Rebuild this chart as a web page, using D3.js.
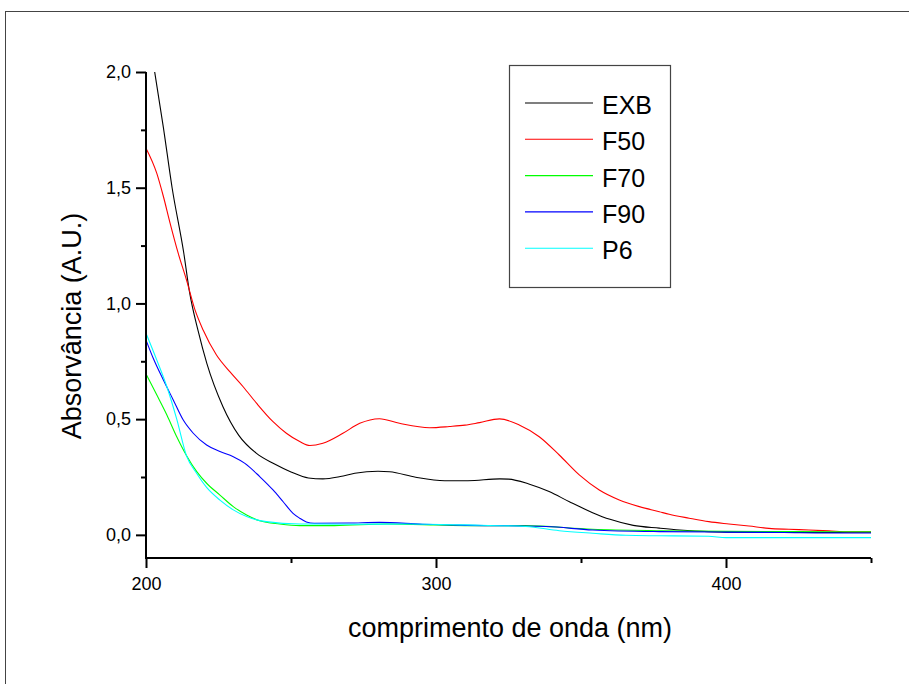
<!DOCTYPE html>
<html>
<head>
<meta charset="utf-8">
<script src="https://cdn.jsdelivr.net/npm/d3@7"></script>
<style>
  html, body { margin: 0; padding: 0; background: #fff; }
  svg { display: block; font-family: "Liberation Sans", Arial, sans-serif; }
</style>
</head>
<body>
<svg id="chart" width="909" height="684"></svg>
<script>
// ---- data ----
const seriesNames = ["EXB", "F50", "F70", "F90", "P6"];
const seriesColors = ["#000000", "#ff0000", "#00ff00", "#0000ff", "#00ffff"];

const exbWl  = [203, 206, 209, 213, 215, 218, 221, 226.5, 232, 238, 244, 250, 256, 261, 267, 272, 280, 284, 293, 303, 311, 322, 325, 332, 339, 346, 354, 360, 368, 377, 384, 394, 410, 430, 450];
const exbAbs = [2.0, 1.76, 1.50, 1.22, 1.05, 0.88, 0.74, 0.555, 0.43, 0.353, 0.308, 0.272, 0.246, 0.242, 0.252, 0.266, 0.275, 0.273, 0.249, 0.234, 0.234, 0.242, 0.241, 0.22, 0.187, 0.143, 0.096, 0.067, 0.041, 0.029, 0.021, 0.014, 0.011, 0.010, 0.010];

const f50Wl  = [200, 203.7, 206, 208.3, 211.1, 214, 216.9, 219.7, 224.3, 228.9, 233.5, 238.1, 243.8, 248.4, 253, 256.5, 261, 267.9, 273.7, 280.5, 287.4, 297.8, 304.6, 310, 315, 321.9, 328.7, 335.6, 342.5, 349.4, 356.3, 363.2, 370.1, 377, 380.4, 387.3, 394.1, 401, 407.9, 414.8, 421.7, 428.6, 435.5, 442.3, 450];
const f50Abs = [1.671, 1.563, 1.462, 1.347, 1.217, 1.10, 0.972, 0.885, 0.777, 0.705, 0.640, 0.569, 0.489, 0.439, 0.403, 0.386, 0.396, 0.439, 0.482, 0.502, 0.482, 0.463, 0.468, 0.474, 0.485, 0.501, 0.475, 0.424, 0.345, 0.259, 0.194, 0.151, 0.122, 0.100, 0.089, 0.072, 0.057, 0.047, 0.038, 0.028, 0.024, 0.021, 0.017, 0.013, 0.013];

const f70Wl  = [200, 203.7, 207.2, 210.6, 214, 217.5, 220.9, 225.5, 230.1, 234.7, 239.2, 246.1, 253, 265, 283, 300, 310, 330, 354, 377, 400, 425, 450];
const f70Abs = [0.695, 0.605, 0.518, 0.424, 0.342, 0.273, 0.223, 0.172, 0.122, 0.086, 0.061, 0.047, 0.040, 0.040, 0.047, 0.043, 0.040, 0.040, 0.024, 0.018, 0.015, 0.014, 0.013];

const f90Wl  = [200, 202.5, 206, 209.4, 212.8, 216.3, 220.9, 225.5, 230.1, 234.1, 239.2, 243.8, 247.3, 250.7, 253, 255.3, 258, 270, 280.5, 295.4, 308, 338, 354, 377, 400, 420, 435, 450];
const f90Abs = [0.842, 0.763, 0.669, 0.583, 0.497, 0.439, 0.388, 0.360, 0.338, 0.309, 0.252, 0.194, 0.143, 0.093, 0.072, 0.056, 0.050, 0.051, 0.054, 0.046, 0.042, 0.036, 0.021, 0.014, 0.012, 0.010, 0.008, 0.008];

const p6Wl   = [200, 203.7, 207.2, 210.6, 214, 217.5, 220.9, 225.5, 230.1, 234.7, 241.5, 253, 270, 290, 310, 331, 342.5, 354, 365.5, 377, 394, 400, 450];
const p6Abs  = [0.871, 0.756, 0.640, 0.50, 0.34, 0.265, 0.205, 0.150, 0.108, 0.079, 0.057, 0.047, 0.046, 0.047, 0.043, 0.036, 0.018, 0.007, -0.002, -0.004, -0.006, -0.012, -0.012];

const xMajorTicks = [200, 300, 400];
const xMinorTicks = [250, 350, 450];
const yMajorTicks = [0, 0.5, 1.0, 1.5, 2.0];
const yMinorTicks = [0.25, 0.75, 1.25, 1.75];
const xTitle = "comprimento de onda (nm)";
const yTitle = "Absorvância (A.U.)";

const seriesWl  = [exbWl, f50Wl, f70Wl, f90Wl, p6Wl];
const seriesAbs = [exbAbs, f50Abs, f70Abs, f90Abs, p6Abs];

// ---- layout ----
const svg = d3.select("#chart");
const plotL = 146, plotR = 871, plotT = 72, plotB = 558;

const x = d3.scaleLinear().domain([200, 450]).range([plotL, plotR]);
const y = d3.scaleLinear().domain([-0.1, 2.0]).range([plotB, plotT]);
const fmt = d => d3.format(".1f")(d).replace(".", ",");

// outer frame
svg.append("rect").attr("x", 5.5).attr("y", 11.5).attr("width", 1000).attr("height", 1000)
  .attr("fill", "none").attr("stroke", "#444").attr("stroke-width", 1);

// series lines
const line = d3.line().x(d => x(d[0])).y(d => y(d[1])).curve(d3.curveMonotoneX);
seriesNames.forEach((name, i) => {
  const pts = seriesWl[i].map((w, j) => [w, seriesAbs[i][j]]);
  svg.append("path").datum(pts).attr("d", line)
    .attr("fill", "none").attr("stroke", seriesColors[i]).attr("stroke-width", 1.1);
});

// y axis
const yAxis = svg.append("g").attr("transform", `translate(${plotL},0)`)
  .call(d3.axisLeft(y).tickValues(yMajorTicks).tickFormat(fmt).tickSize(10).tickPadding(5).tickSizeOuter(0));
yAxis.select(".domain").attr("stroke-width", 2).attr("d", `M0,${plotT}V${plotB}`);
yAxis.selectAll(".tick line").attr("stroke-width", 2);
yAxis.selectAll(".tick text").attr("font-size", 18).attr("fill", "#000")
  .attr("font-family", "Liberation Sans, Arial, sans-serif");
svg.append("g").attr("transform", `translate(${plotL},0)`)
  .call(d3.axisLeft(y).tickValues(yMinorTicks).tickFormat("").tickSize(5).tickSizeOuter(0))
  .call(g => g.select(".domain").remove())
  .selectAll(".tick line").attr("stroke-width", 2);

// x axis
const xAxis = svg.append("g").attr("transform", `translate(0,${plotB})`)
  .call(d3.axisBottom(x).tickValues(xMajorTicks).tickFormat(d3.format("d")).tickSize(10).tickPadding(9).tickSizeOuter(0));
xAxis.select(".domain").attr("stroke-width", 2).attr("d", `M${plotL - 1},0H${plotR}`);
xAxis.selectAll(".tick line").attr("stroke-width", 2);
xAxis.selectAll(".tick text").attr("font-size", 18).attr("fill", "#000")
  .attr("font-family", "Liberation Sans, Arial, sans-serif");
svg.append("g").attr("transform", `translate(0,${plotB})`)
  .call(d3.axisBottom(x).tickValues(xMinorTicks).tickFormat("").tickSize(5).tickSizeOuter(0))
  .call(g => g.select(".domain").remove())
  .selectAll(".tick line").attr("stroke-width", 2);

// axis titles
svg.append("text").attr("x", 510).attr("y", 637).attr("text-anchor", "middle")
  .attr("font-size", 27).attr("fill", "#000").text(xTitle);
svg.append("text").attr("transform", "translate(81,326) rotate(-90)").attr("text-anchor", "middle")
  .attr("font-size", 27).attr("fill", "#000").text(yTitle);

// legend
const lg = svg.append("g");
lg.append("rect").attr("x", 509.5).attr("y", 65.5).attr("width", 161).attr("height", 222)
  .attr("fill", "#fff").attr("stroke", "#444").attr("stroke-width", 1.2);
seriesNames.forEach((name, i) => {
  const ly = 103 + i * 36.3;
  lg.append("line").attr("x1", 525).attr("x2", 593).attr("y1", ly).attr("y2", ly)
    .attr("stroke", seriesColors[i]).attr("stroke-width", 1.1);
  lg.append("text").attr("x", 602).attr("y", ly + 11).attr("font-size", 25)
    .attr("fill", "#000").text(name);
});
</script>
</body>
</html>
